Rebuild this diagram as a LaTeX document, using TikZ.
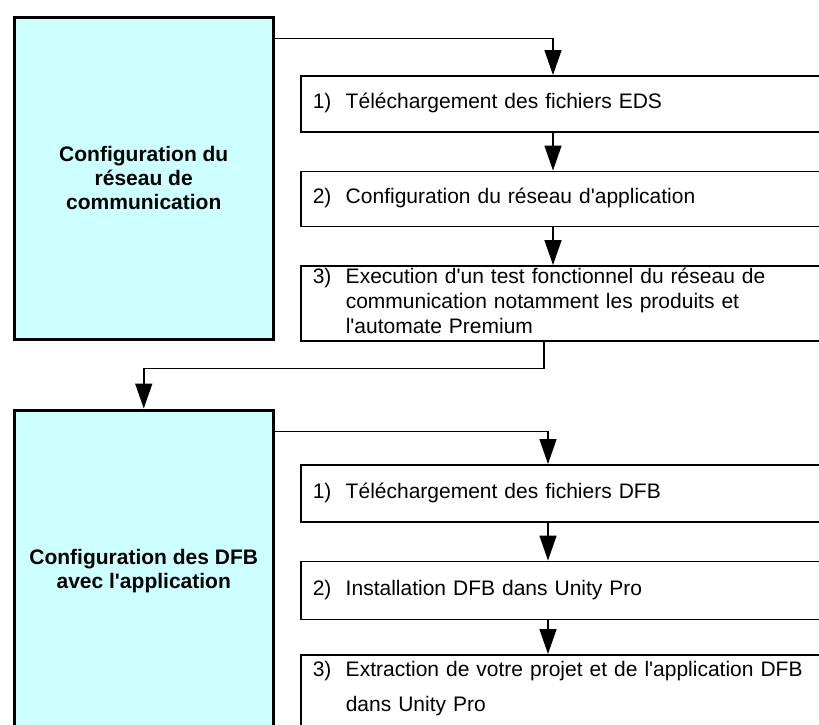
\documentclass[tikz,border=0pt]{standalone}
\usepackage{fontspec}
\setmainfont{Liberation Sans}
\usetikzlibrary{positioning,arrows.meta}
\definecolor{boxcyan}{HTML}{CCFFFF}
\newcommand{\etape}[2]{\begin{tabular}[t]{@{}p{33pt}@{}l@{}}#1&#2\end{tabular}}
\newcommand{\apos}{\textquotesingle}

\begin{document}
\begin{tikzpicture}[x=1pt,y=-1pt,
    phase/.style={draw,line width=3pt,fill=boxcyan,anchor=north west,minimum width=259.5pt,minimum height=322.5pt,align=center,font=\fontsize{21}{24}\selectfont\bfseries},
    etape/.style={draw,line width=1.5pt,anchor=north west,minimum width=540pt,text width=516pt,inner xsep=12pt,inner ysep=0pt,align=left,font=\fontsize{21}{25}\selectfont},
    flow/.style={line width=1.5pt,-{Triangle[length=25pt,width=17pt]}}]
    \useasboundingbox (0,0) rectangle (819,724);
    \clip (0,0) rectangle (819,724);

    % communication network
    \node[phase] (reseau) at (12.5,15.5) {Configuration du\\réseau de\\communication};
    \node[etape,minimum height=56pt] (eds) at (300,75) {\etape{1)}{Téléchargement des fichiers EDS}};
    \node[etape,minimum height=55pt,below=38pt of eds] (appli) {\etape{2)}{Configuration du réseau d\apos application}};
    \node[etape,minimum height=75pt,below=38pt of appli] (test) {\etape{3)}{Execution d\apos un test fonctionnel du réseau de\\ & communication notamment les produits et\\ & l\apos automate Premium}};

    % DFB with the application
    \node[phase] (dfb) at (12.5,408.5) {Configuration des DFB\\avec l\apos application};
    \node[etape,minimum height=57pt] (telech) at (300,464) {\etape{1)}{Téléchargement des fichiers DFB}};
    \node[etape,minimum height=58pt,below=38pt of telech] (install) {\etape{2)}{Installation DFB dans Unity Pro}};
    \node[etape,text height=22pt,text depth=64pt,below=34pt of install,font=\fontsize{21}{35}\selectfont] (extract) {\etape{3)}{Extraction de votre projet et de l\apos application DFB\\ & dans Unity Pro}};

    \draw[flow] ([yshift=-23pt]reseau.north east) -| ([xshift=253pt]eds.north west);
    \draw[flow] ([xshift=253pt]eds.south west) -- ([xshift=253pt]appli.north west);
    \draw[flow] ([xshift=253pt]appli.south west) -- ([xshift=253pt]test.north west);
    \draw[flow] ([xshift=244pt]test.south west) -- ++(0,27) -| (dfb.north);
    \draw[flow] ([yshift=-23pt]dfb.north east) -| ([xshift=248pt]telech.north west);
    \draw[flow] ([xshift=248pt]telech.south west) -- ([xshift=248pt]install.north west);
    \draw[flow] ([xshift=248pt]install.south west) -- ([xshift=248pt]extract.north west);
\end{tikzpicture}
\end{document}
